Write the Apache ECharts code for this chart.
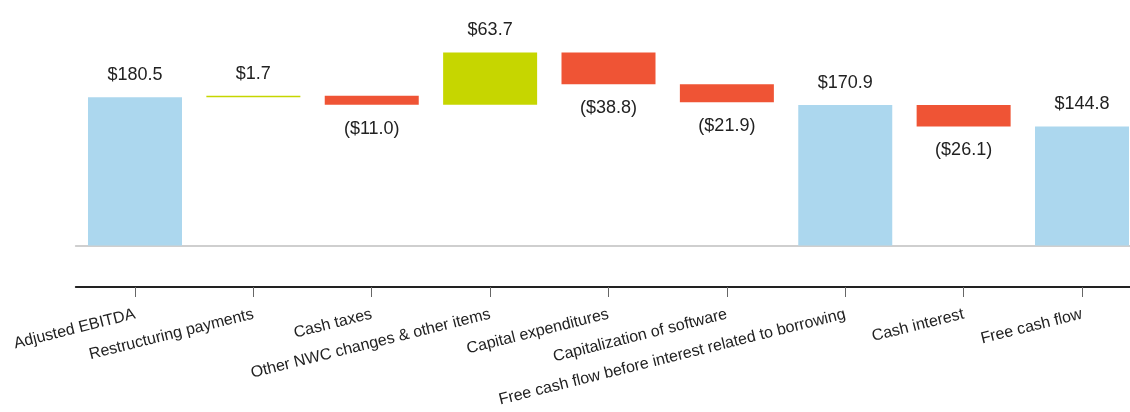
<!DOCTYPE html>
<html><head><meta charset="utf-8">
<script src="https://cdn.jsdelivr.net/npm/echarts@6/dist/echarts.min.js"></script>
<style>html,body{margin:0;padding:0;background:#fff;overflow:hidden}#c{width:1142px;height:412px}</style>
</head><body><div id="c"></div>
<script>
const categories = ['Adjusted EBITDA','Restructuring payments','Cash taxes','Other NWC changes & other items','Capital expenditures','Capitalization of software','Free cash flow before interest related to borrowing','Cash interest','Free cash flow'];
const values = [180.5, 1.7, -11.0, 63.7, -38.8, -21.9, 170.9, -26.1, 144.8];
const kinds = ['total','delta','delta','delta','delta','delta','total','delta','total'];

const COL_TOTAL = '#acd7ee', COL_POS = '#c6d600', COL_NEG = '#ef5435';
let running = 0;
const baseData = [], barData = [];
values.forEach((v, i) => {
  let base, h;
  if (kinds[i] === 'total') { base = 0; h = v; running = v; }
  else if (v >= 0) { base = running; h = v; running += v; }
  else { running += v; base = running; h = -v; }
  baseData.push(base);
  const neg = kinds[i] !== 'total' && v < 0;
  barData.push({
    value: h,
    itemStyle: { color: kinds[i] === 'total' ? COL_TOTAL : (v >= 0 ? COL_POS : COL_NEG) },
    label: {
      show: true,
      position: neg ? 'bottom' : 'top',
      distance: neg ? 15 : 13,
      formatter: neg ? '($' + Math.abs(v).toFixed(1) + ')' : '$' + v.toFixed(1)
    }
  });
});

const chart = echarts.init(document.getElementById('c'));
chart.setOption({
  animation: false,
  grid: { left: 75.8, right: 0.8, top: 40, bottom: 166.5 },
  xAxis: [{
    type: 'category', data: categories, position: 'bottom', offset: 41.5,
    axisLine: { show: true, onZero: false, lineStyle: { color: '#222', width: 2 } },
    axisTick: { show: true, alignWithLabel: true, length: 10, lineStyle: { color: '#666', width: 1 } },
    axisLabel: { rotate: 14, fontSize: 16, margin: 27, color: '#222', fontFamily: 'Liberation Sans, Arial, sans-serif', interval: 0 }
  }, {
    type: 'category', data: categories, position: 'bottom', offset: 0,
    axisLine: { show: true, onZero: false, lineStyle: { color: '#cfcfcf', width: 2 } },
    axisTick: { show: false }, axisLabel: { show: false }
  }],
  yAxis: { type: 'value', min: 0, max: 250, show: false, splitLine: { show: false } },
  series: [{
    type: 'bar', stack: 'w', data: baseData, barWidth: 94, xAxisIndex: 0,
    itemStyle: { color: 'transparent' }, silent: true
  }, {
    type: 'bar', stack: 'w', data: barData, barWidth: 94, xAxisIndex: 0,
    label: { fontSize: 18, color: '#222', fontFamily: 'Liberation Sans, Arial, sans-serif' }
  }]
});
</script></body></html>
